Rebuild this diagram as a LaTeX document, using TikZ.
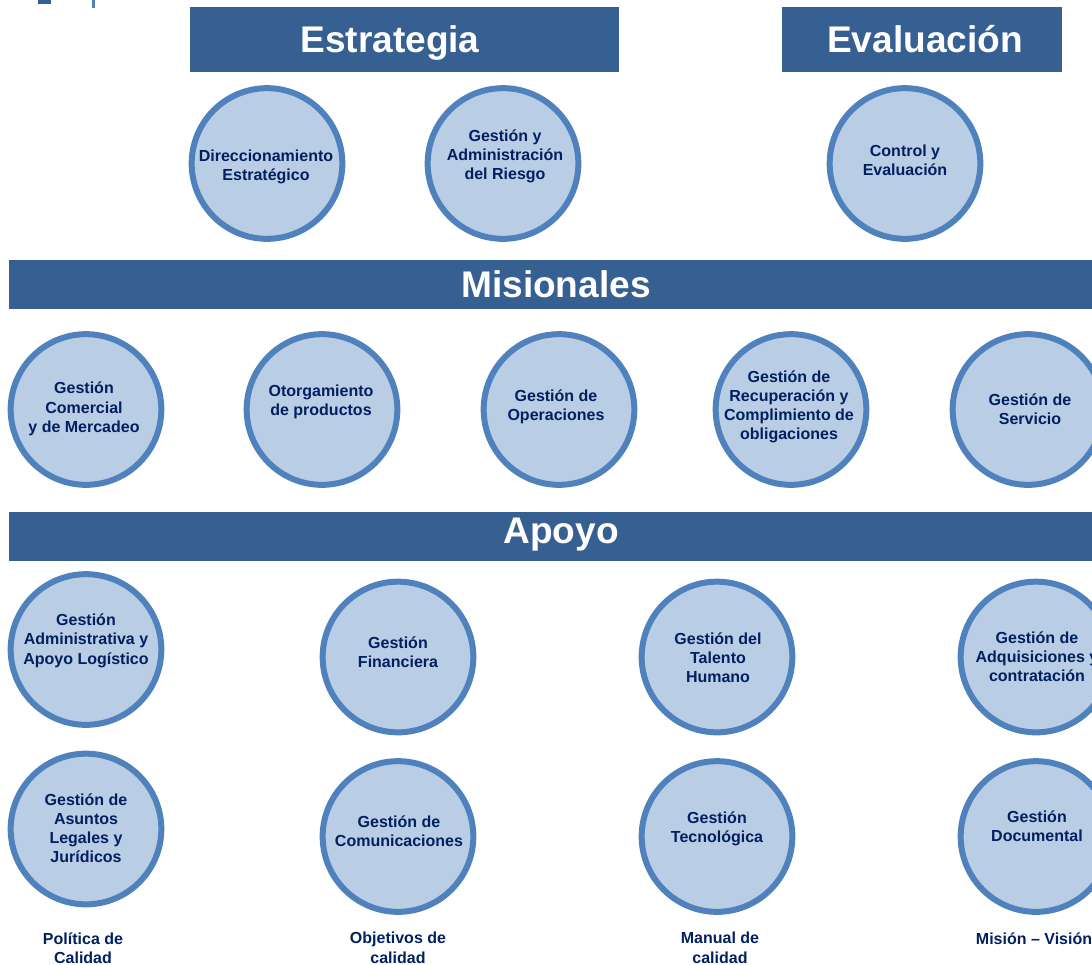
\documentclass[tikz,border=0pt]{standalone}
\usepackage{fontspec}
\setmainfont{Liberation Sans}
\usepackage{color}
\definecolor{barblue}{HTML}{366092}
\definecolor{ringblue}{HTML}{4F81BD}
\definecolor{discblue}{HTML}{B9CDE5}
\definecolor{inkblue}{HTML}{002060}
\tikzset{
	bar/.style={fill=barblue,text=white,font=\bfseries\fontsize{27.8}{32}\selectfont,inner sep=0pt,anchor=center},
	proc/.style={circle,draw=ringblue,fill=discblue,line width=4.5pt,minimum size=113pt,inner sep=0pt},
	proctext/.style={text=inkblue,font=\bfseries\fontsize{12}{14.3}\selectfont,align=center,inner sep=0pt,yshift=-0.6pt},
}
\begin{document}
\begin{tikzpicture}[x=0.75pt,y=-0.75pt]
	\useasboundingbox (0,0) rectangle (1092,964);
	% logo remains
	\fill[ringblue] (92,0) rectangle (95,8);
	\fill[barblue] (38,0) rectangle (51,4);
	% bars
	\node[bar,minimum width=321.75pt,minimum height=48.75pt] (estrategia) at (404.5,39.5) {};
	\node[bar,minimum width=210pt,minimum height=48.75pt] (evaluacion) at (922,39.5) {};
	\node[bar,minimum width=812.25pt,minimum height=36.75pt] (misionales) at (550.5,284.5) {};
	\node[bar,minimum width=812.25pt,minimum height=36.75pt] (apoyo) at (550.5,536.5) {};
	\node[bar,fill=none] (estrategiatxt) at (390,43) {Estrategia};
	\node[bar,fill=none] (evaluaciontxt) at (925,39.5) {Evaluación};
	\node[bar,fill=none] (misionalestxt) at (556,284.5) {Misionales};
	\node[bar,fill=none] (apoyotxt) at (561,534.5) {Apoyo};
	% estrategia, evaluacion
	\node[proc] (direccion) at (267,163.5) {};
	\node[proc] (riesgo) at (503,163.5) {};
	\node[proc] (control) at (905,163.5) {};
	\node[proctext] at (266,166) {Direccionamiento\\Estratégico};
	\node[proctext] at (505,155.5) {Gestión y\\Administración\\del Riesgo};
	\node[proctext] at (905,159.5) {Control y\\Evaluación};
	% misionales
	\node[proc] (comercial) at (86,409.5) {};
	\node[proc] (otorgamiento) at (322,409.5) {};
	\node[proc] (operaciones) at (559,409.5) {};
	\node[proc] (recuperacion) at (791,409.5) {};
	\node[proc] (servicio) at (1028,409.5) {};
	\node[proctext] at (84,408) {Gestión\\Comercial\\y de Mercadeo};
	\node[proctext] at (321,401) {Otorgamiento\\de productos};
	\node[proctext] at (556,406) {Gestión de\\Operaciones};
	\node[proctext] at (789,406) {Gestión de\\Recuperación y\\Complimiento de\\obligaciones};
	\node[proctext] at (1030,408) {Gestión de\\Servicio};
	% apoyo
	\node[proc] (logistico) at (86,649.5) {};
	\node[proc] (financiera) at (398,657) {};
	\node[proc] (talento) at (717,657) {};
	\node[proc] (adquisiciones) at (1036,657) {};
	\node[proc] (juridicos) at (86,829) {};
	\node[proc] (comunicaciones) at (398,836.5) {};
	\node[proc] (tecnologica) at (717,836.5) {};
	\node[proc] (documental) at (1036,836.5) {};
	\node[proctext] at (86,640) {Gestión\\Administrativa y\\Apoyo Logístico};
	\node[proctext] at (398,651) {Gestión\\Financiera};
	\node[proctext] at (718,657) {Gestión del\\Talento\\Humano};
	\node[proctext] at (1037,656) {Gestión de\\Adquisiciones y\\contratación};
	\node[proctext] at (86,827.5) {Gestión de\\Asuntos\\Legales y\\Jurídicos};
	\node[proctext] at (399,830) {Gestión de\\Comunicaciones};
	\node[proctext] at (717,828) {Gestión\\Tecnológica};
	\node[proctext] at (1037,825) {Gestión\\Documental};
	% documentos
	\node[proctext] (politica) at (83,947) {Política de\\Calidad};
	\node[proctext] (objetivos) at (398,947) {Objetivos de\\calidad};
	\node[proctext] (manual) at (720,947) {Manual de\\calidad};
	\node[proctext] (mision) at (1034,938) {Misión – Visión};
\end{tikzpicture}
\end{document}
